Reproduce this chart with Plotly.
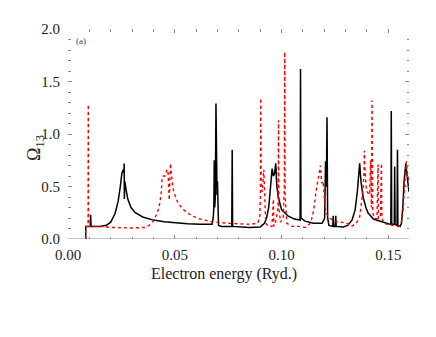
import plotly.graph_objects as go

# black solid curve (energy in Ryd, collision strength)
black_x = [0.0083, 0.0083, 0.0104, 0.0106, 0.0108, 0.015, 0.018, 0.020, 0.022, 0.0235, 0.0245, 0.0252,
           0.0258, 0.0262, 0.0263, 0.0264, 0.0266, 0.0272, 0.028, 0.0295, 0.0315, 0.035, 0.040, 0.045,
           0.050, 0.056, 0.062, 0.066, 0.0675, 0.068, 0.0683, 0.0685, 0.0687, 0.0690, 0.0693, 0.0695,
           0.0698, 0.0700, 0.0702, 0.0705, 0.072, 0.0767, 0.0769, 0.0771, 0.085, 0.090, 0.092, 0.093,
           0.094, 0.095, 0.0956, 0.0962, 0.0967, 0.0973, 0.0978, 0.0985, 0.0992, 0.100, 0.103, 0.106,
           0.1087, 0.1089, 0.1091, 0.111, 0.115, 0.119, 0.1202, 0.1206, 0.1210, 0.1213, 0.1216, 0.1222,
           0.1240, 0.1242, 0.1244, 0.1252, 0.1254, 0.1256, 0.129, 0.131, 0.133, 0.1345, 0.1355, 0.136,
           0.1363, 0.1366, 0.1372, 0.1382, 0.1395, 0.1405, 0.143, 0.147, 0.150, 0.1512, 0.1514, 0.1516,
           0.1528, 0.1530, 0.1532, 0.1541, 0.1543, 0.1545, 0.1555, 0.1562, 0.1568, 0.1574, 0.1578,
           0.1582, 0.1588, 0.1593, 0.1597]
black_y = [0.0, 0.12, 0.12, 0.23, 0.12, 0.12, 0.13, 0.16, 0.24, 0.36, 0.50, 0.62,
           0.66, 0.63, 0.72, 0.38, 0.55, 0.47, 0.38, 0.30, 0.25, 0.21, 0.18, 0.165,
           0.155, 0.145, 0.14, 0.135, 0.14, 0.20, 0.30, 0.75, 0.30, 0.40, 1.29, 0.60,
           0.42, 0.55, 0.20, 0.13, 0.12, 0.12, 0.85, 0.12, 0.11, 0.115, 0.15, 0.20,
           0.30, 0.50, 0.67, 0.60, 0.62, 0.72, 0.50, 0.40, 0.33, 0.28, 0.22, 0.19,
           0.18, 1.62, 0.20, 0.17, 0.15, 0.15, 0.20, 0.74, 0.50, 1.16, 0.20, 0.13,
           0.12, 0.22, 0.12, 0.12, 0.22, 0.12, 0.115, 0.13, 0.18, 0.28, 0.45, 0.60,
           0.67, 0.72, 0.55, 0.40, 0.30, 0.25, 0.19, 0.16, 0.145, 0.14, 1.22, 0.14,
           0.14, 0.69, 0.14, 0.13, 0.85, 0.13, 0.12, 0.15, 0.30, 0.55, 0.68,
           0.72, 0.60, 0.50, 0.45]

# red dotted curve
red_x = [0.0083, 0.0083, 0.0094, 0.0095, 0.0096, 0.015, 0.020, 0.030, 0.036, 0.038, 0.040, 0.042,
         0.043, 0.0437, 0.0441, 0.0447, 0.0455, 0.0462, 0.0468, 0.0474, 0.0477, 0.048, 0.0486, 0.0493,
         0.0505, 0.0516, 0.054, 0.058, 0.062, 0.067, 0.075, 0.085, 0.0888, 0.0898, 0.0901, 0.0903,
         0.0905, 0.091, 0.0917, 0.0921, 0.0926, 0.094, 0.0955, 0.0962, 0.0964, 0.097, 0.0984, 0.0986,
         0.0988, 0.0995, 0.1008, 0.1013, 0.1015, 0.1017, 0.1025, 0.105, 0.108, 0.111, 0.113, 0.114,
         0.115, 0.1163, 0.1175, 0.1182, 0.1188, 0.1195, 0.1203, 0.121, 0.1226, 0.1245, 0.128, 0.1305,
         0.1327, 0.135, 0.1366, 0.1375, 0.1382, 0.1386, 0.1388, 0.139, 0.1396, 0.140, 0.1412, 0.1418,
         0.1421, 0.1424, 0.1427, 0.1435, 0.1447, 0.1450, 0.1452, 0.1454, 0.1463, 0.1466, 0.1468,
         0.1470, 0.148, 0.1497, 0.152, 0.1545, 0.156, 0.157, 0.1578, 0.1585, 0.1591, 0.1597]
red_y = [0.0, 0.12, 0.12, 1.28, 0.12, 0.12, 0.11, 0.105, 0.11, 0.13, 0.17, 0.26,
         0.34, 0.45, 0.59, 0.60, 0.60, 0.65, 0.66, 0.37, 0.60, 0.72, 0.58, 0.47,
         0.39, 0.34, 0.28, 0.22, 0.19, 0.165, 0.15, 0.14, 0.15, 0.20, 0.40, 1.34,
         0.50, 0.45, 0.66, 0.30, 0.15, 0.12, 0.12, 0.38, 0.12, 0.14, 0.30, 1.13,
         0.30, 0.16, 0.20, 0.50, 1.78, 0.40, 0.15, 0.12, 0.12, 0.11, 0.14, 0.18,
         0.27, 0.47, 0.62, 0.70, 0.53, 0.55, 0.32, 0.24, 0.20, 0.17, 0.16, 0.15,
         0.12, 0.15, 0.21, 0.33, 0.47, 0.62, 0.84, 0.70, 0.50, 0.45, 0.42, 0.75,
         0.30, 1.32, 0.25, 0.20, 0.19, 0.55, 0.71, 0.20, 0.20, 0.50, 0.72,
         0.20, 0.15, 0.14, 0.13, 0.12, 0.15, 0.30, 0.55, 0.74, 0.60, 0.55]

serif = "Liberation Serif"
tick_col = "#8a8a8a"

fig = go.Figure()
fig.add_trace(go.Scatter(x=black_x, y=black_y, mode="lines",
                         line=dict(color="black", width=1.5), showlegend=False))
fig.add_trace(go.Scatter(x=red_x, y=red_y, mode="lines",
                         line=dict(color="#ff0000", width=1.4, dash="dot"), showlegend=False))

# gray axis line along the bottom
fig.add_shape(type="line", xref="paper", yref="y", x0=0, x1=1, y0=0, y1=0,
              line=dict(color=tick_col, width=1), layer="below")

fig.update_layout(
    width=436, height=337,
    margin=dict(l=68, r=27, t=29, b=98),
    paper_bgcolor="white", plot_bgcolor="white",
    font=dict(family=serif, size=15, color="#222"),
    xaxis=dict(range=[0, 0.1597], dtick=0.05, tickformat=".2f", showgrid=False, zeroline=False,
               showline=False, mirror="ticks", ticks="inside", ticklen=4, tickcolor=tick_col,
               ticklabelstandoff=5,
               minor=dict(dtick=0.01, ticks="inside", ticklen=2.5, tickcolor=tick_col),
               tickfont=dict(family=serif, size=15, color="#222")),
    yaxis=dict(range=[0, 2.0], dtick=0.5, tickformat=".1f", showgrid=False, zeroline=False,
               showline=False, mirror="ticks", ticks="inside", ticklen=4, tickcolor=tick_col,
               ticklabelstandoff=7,
               minor=dict(dtick=0.1, ticks="inside", ticklen=2.5, tickcolor=tick_col),
               tickfont=dict(family=serif, size=15, color="#222")),
    annotations=[
        dict(text="Electron energy (Ryd.)", xref="paper", yref="paper", x=0.457, y=-0.167,
             xanchor="center", yanchor="middle",
             showarrow=False, font=dict(family=serif, size=16, color="#222")),
        dict(text="Ω<sub>13</sub>", xref="paper", yref="paper", x=-0.097, y=0.433,
             xanchor="center", yanchor="middle",
             textangle=-90, showarrow=False, font=dict(family=serif, size=18, color="#222")),
        dict(text="(a)", xref="paper", yref="paper", x=0.038, y=0.943,
             xanchor="center", yanchor="middle",
             showarrow=False, font=dict(family=serif, size=9, color="#3a4560")),
    ],
)

fig.write_html("out.html", config={"displayModeBar": False},
               post_script="document.body.style.margin='0';")
